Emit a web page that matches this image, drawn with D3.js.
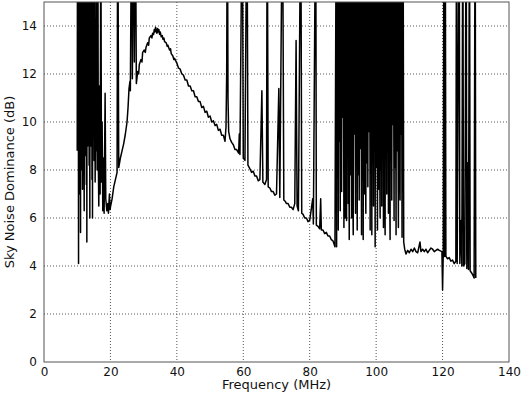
<!DOCTYPE html>
<html lang="en">
	<head>
		<meta charset="utf-8">
		<title>Sky Noise Dominance</title>
		<script type="text/javascript" src="https://cdn.jsdelivr.net/npm/d3@7"></script>
		<style type="text/css">
			body { margin: 0; background: #fff; }
			text { font-family: "DejaVu Sans", sans-serif; fill: #111; }
		</style>
	</head>
	<body>
		<script type="text/javascript">

			//Tick labels
			var xTicks = [0, 20, 40, 60, 80, 100, 120, 140];
			var yTicks = [0, 2, 4, 6, 8, 10, 12, 14];

			//Spectrum, [frequency MHz, dB]; 20 = off the top
			var lowBand = [
				[10.0, 8.8], [10.1, 20], [10.2, 9.0], [10.3, 20], [10.4, 4.1], [10.5, 20], [10.6, 7.0],
				[10.7, 20], [10.8, 9.8], [10.9, 20], [11.0, 5.4], [11.1, 20], [11.2, 8.0], [11.3, 20],
				[11.4, 9.5], [11.5, 20], [11.6, 7.2], [11.7, 20], [11.8, 8.5], [11.9, 20], [12.0, 10.2],
				[12.1, 6.3], [12.2, 20], [12.35, 8.6], [12.45, 20], [12.5, 10.5], [12.6, 20], [12.75, 7.4],
				[12.85, 20], [12.9, 5.0], [13.0, 20], [13.15, 9.0], [13.25, 20], [13.3, 12.0], [13.4, 20],
				[13.6, 8.2], [13.7, 20], [13.8, 6.0], [13.9, 20], [14.05, 10.8], [14.15, 20], [14.2, 9.0],
				[14.3, 20], [14.45, 7.6], [14.55, 20], [14.6, 6.0], [14.7, 20], [14.85, 9.7], [14.95, 20],
				[15.0, 13.5], [15.1, 8.4], [15.2, 20], [15.4, 7.5], [15.6, 12.5], [15.7, 8.8], [15.8, 20],
				[16.0, 8.0], [16.1, 11.0], [16.2, 20], [16.35, 8.4], [16.5, 6.5], [16.7, 11.5], [16.9, 7.0],
				[17.0, 12.6], [17.1, 20], [17.3, 7.5], [17.5, 10.0], [17.7, 6.3], [17.9, 8.5], [18.1, 6.2],
				[18.4, 11.2], [18.6, 6.8], [18.9, 6.3], [19.2, 6.6], [19.4, 6.2]
			];

			var skyCurve = [
				[19.7, 7.0], [19.9, 6.35], [20.0, 6.45], [20.5, 6.8], [21.0, 7.3], [21.5, 7.6], [22.0, 7.9],
				[22.2, 20], [22.5, 8.1], [23.0, 8.5], [23.5, 8.8], [24.0, 9.1], [24.5, 9.5], [25.0, 10.0],
				[25.3, 10.6], [25.6, 11.4], [25.9, 11.7], [26.0, 11.3], [26.4, 20], [26.6, 11.8], [26.9, 20],
				[27.2, 12.5], [27.5, 20], [27.8, 11.6], [28.2, 12.1], [28.5, 12.0], [28.7, 12.4], [29.2, 12.6],
				[29.5, 12.5], [29.7, 12.9], [30.2, 13.0], [30.5, 12.9], [30.7, 13.1], [31.2, 13.3],
				[31.5, 13.2], [31.7, 13.5], [32.2, 13.6], [32.5, 13.5], [32.7, 13.7], [33.0, 13.65],
				[33.2, 13.85], [33.4, 13.75], [33.6, 13.95], [33.8, 13.8], [34.0, 13.7], [34.2, 13.9],
				[34.4, 13.75], [34.6, 13.85], [34.8, 13.65], [35.0, 13.75], [35.3, 13.55], [35.6, 13.6],
				[35.8, 13.45], [36.1, 13.5], [36.3, 13.35], [36.8, 13.3], [37.1, 13.15], [37.3, 13.2],
				[37.8, 13.0], [38.1, 13.05], [38.3, 12.85], [38.8, 12.75], [39.1, 12.6], [39.3, 12.65],
				[40.0, 12.45], [40.5, 12.25], [41.0, 12.2], [41.5, 12.0], [42.0, 11.95], [42.5, 11.75],
				[43.0, 11.75], [43.5, 11.5], [44.0, 11.5], [44.5, 11.3], [45.0, 11.3], [45.5, 11.05],
				[46.0, 11.05], [46.5, 10.85], [47.0, 10.85], [47.5, 10.6], [48.0, 10.65], [48.5, 10.4],
				[49.0, 10.45], [49.5, 10.2], [50.0, 10.25], [50.5, 10.0], [51.0, 10.05], [51.5, 9.85],
				[52.0, 9.9], [52.5, 9.65], [53.0, 9.7], [53.5, 9.45], [54.0, 9.45], [54.5, 9.2], [54.8, 9.8],
				[55.0, 12], [55.2, 20], [55.4, 11], [55.6, 9.6], [56.0, 9.3], [56.5, 9.15], [57.0, 9.05],
				[57.5, 8.85], [58.0, 8.85], [58.6, 8.7], [58.8, 9.5], [59.0, 8.65], [59.7, 20], [60.0, 8.5],
				[60.5, 8.4], [61.1, 20], [61.4, 8.2], [62.0, 8.05], [62.5, 7.9], [63.0, 7.95], [63.5, 7.75],
				[64.0, 7.75], [64.5, 7.55], [65.0, 7.6], [65.6, 11.3], [65.9, 7.5], [66.5, 7.4], [67.0, 7.6],
				[67.2, 20], [67.5, 7.3], [68.0, 7.25], [68.5, 7.1], [69.0, 7.1], [69.5, 6.95], [70.0, 7.0],
				[70.7, 11.4], [71.0, 6.85], [71.8, 20], [72.2, 6.75], [72.6, 6.7], [73.0, 6.6], [73.5, 6.6],
				[74.0, 6.45], [74.5, 6.45], [75.0, 6.35], [75.5, 6.6], [75.9, 13.4], [76.2, 6.5], [76.6, 6.3],
				[77.3, 20], [77.6, 6.2], [78.0, 6.15], [78.5, 6.0], [79.0, 6.0], [79.5, 5.85], [80.0, 5.9],
				[80.9, 6.8], [81.1, 5.75], [81.8, 20], [82.0, 5.7], [82.5, 5.65], [83.0, 5.55], [83.3, 6.8],
				[83.5, 5.5], [84.0, 5.5], [84.5, 5.35], [85.0, 5.4], [85.5, 5.25], [86.0, 5.25], [86.5, 5.1],
				[87.0, 5.05], [87.6, 4.8]
			];

			var fmBand = [
				[88.0, 20], [88.1, 4.8], [88.2, 20], [88.35, 8.5], [88.45, 20], [88.6, 5.5], [88.75, 20],
				[88.9, 9.2], [89.0, 20], [89.2, 6.3], [89.3, 20], [89.45, 8.0], [89.55, 20], [89.6, 7.1],
				[89.75, 20], [89.9, 10.2], [90.05, 20], [90.3, 5.6], [90.45, 20], [90.6, 11.7], [90.7, 6.0],
				[90.85, 20], [91.0, 8.4], [91.1, 5.9], [91.25, 20], [91.4, 9.0], [91.5, 20], [91.6, 6.6],
				[91.7, 20], [91.8, 8.8], [91.9, 5.1], [92.05, 20], [92.2, 7.8], [92.35, 20], [92.6, 6.0],
				[92.7, 20], [92.8, 11.5], [92.95, 7.5], [93.1, 5.3], [93.25, 20], [93.4, 9.5], [93.55, 20],
				[93.8, 6.2], [93.9, 20], [94.05, 8.2], [94.15, 20], [94.3, 5.5], [94.45, 20], [94.5, 12.1],
				[94.6, 7.8], [94.75, 20], [94.9, 6.75], [95.05, 20], [95.2, 8.9], [95.35, 20], [95.6, 5.3],
				[95.7, 20], [95.85, 7.6], [96.0, 20], [96.1, 5.1], [96.2, 20], [96.3, 10.0], [96.4, 7.0],
				[96.55, 20], [96.75, 9.1], [96.9, 6.2], [97.05, 20], [97.2, 8.3], [97.35, 20], [97.5, 7.3],
				[97.65, 20], [97.8, 9.6], [97.95, 20], [98.2, 5.5], [98.3, 20], [98.45, 7.9], [98.55, 20],
				[98.7, 5.3], [98.8, 20], [98.95, 8.6], [99.05, 20], [99.2, 6.5], [99.3, 20], [99.5, 9.4],
				[99.6, 20], [99.7, 4.8], [99.85, 20], [100.0, 8.1], [100.15, 20], [100.4, 5.5], [100.5, 20],
				[100.6, 13.1], [100.7, 7.2], [100.85, 20], [101.0, 9.3], [101.2, 6.0], [101.3, 20],
				[101.45, 8.0], [101.55, 20], [101.7, 6.5], [101.8, 20], [101.95, 9.8], [102.05, 20],
				[102.2, 5.6], [102.3, 20], [102.4, 12.5], [102.55, 7.4], [102.7, 5.3], [102.8, 20],
				[102.95, 8.7], [103.05, 20], [103.2, 7.0], [103.3, 20], [103.45, 9.2], [103.55, 20],
				[103.7, 6.2], [103.8, 20], [103.9, 9.0], [104.05, 7.7], [104.2, 5.1], [104.3, 20],
				[104.45, 8.4], [104.55, 20], [104.7, 6.75], [104.85, 20], [105.0, 9.9], [105.1, 20],
				[105.4, 5.9], [105.5, 20], [105.6, 8.1], [105.75, 20], [106.0, 5.3], [106.1, 20],
				[106.25, 8.8], [106.35, 20], [106.7, 5.6], [106.8, 20], [106.9, 13.0], [107.05, 8.2],
				[107.2, 6.75], [107.35, 20], [107.5, 9.5], [107.6, 20], [107.8, 5.2], [107.9, 20],
				[108.0, 7.5], [108.1, 20], [108.3, 5.0]
			];

			var upperBand = [
				[108.6, 4.7], [109.0, 4.5], [109.5, 4.65], [110.0, 4.55], [110.5, 4.7], [111.0, 4.6],
				[111.5, 4.75], [112.0, 4.6], [112.5, 4.55], [113.2, 5.0], [113.5, 4.6], [114.0, 4.7],
				[114.5, 4.6], [115.0, 4.7], [115.5, 4.55], [116.0, 4.65], [116.5, 4.75], [117.0, 4.7],
				[117.5, 4.6], [118.0, 4.65], [118.5, 4.7], [119.0, 4.65], [119.8, 4.6], [120.0, 3.0],
				[120.2, 4.5], [120.4, 20], [120.6, 4.4], [120.8, 20], [121.0, 4.4], [121.5, 4.3],
				[122.0, 4.35], [122.5, 4.2], [123.0, 4.25], [123.5, 4.1], [124.0, 4.2], [124.2, 20],
				[124.4, 4.1], [125.0, 20], [125.2, 4.1], [125.6, 5.9], [125.8, 4.0], [126.1, 20],
				[126.3, 4.0], [126.7, 4.1], [127.1, 20], [127.3, 3.9], [127.6, 8.3], [127.8, 3.85],
				[128.1, 20], [128.3, 3.8], [128.8, 3.7], [129.2, 3.6], [129.5, 3.5], [129.8, 20], [130.0, 3.5]
			];

			var spectrum = lowBand.concat(skyCurve, fmBand, upperBand);

			//Width, height and plot box
			var w = 523;
			var h = 399;
			var margin = {top: 2, right: 14, bottom: 37, left: 44};
			var pw = w - margin.left - margin.right;
			var ph = h - margin.top - margin.bottom;

			var x = d3.scaleLinear().domain([0, 140]).range([0, pw]);
			var y = d3.scaleLinear().domain([0, 15]).range([ph, 0]);

			//Create SVG element
			var svg = d3.select("body")
						.append("svg")
						.attr("width", w)
						.attr("height", h);

			var g = svg.append("g")
					   .attr("transform", "translate(" + margin.left + "," + margin.top + ")");

			g.append("clipPath")
			 .attr("id", "plot")
			 .append("rect")
			 .attr("width", pw)
			 .attr("height", ph);

			//Dotted grid
			g.selectAll(".vgrid")
			 .data(xTicks.slice(1, -1))
			 .enter()
			 .append("line")
			 .attr("x1", function(d) { return x(d); })
			 .attr("x2", function(d) { return x(d); })
			 .attr("y1", 0)
			 .attr("y2", ph)
			 .attr("stroke", "#555")
			 .attr("stroke-dasharray", "1,2");

			g.selectAll(".hgrid")
			 .data(yTicks.slice(1))
			 .enter()
			 .append("line")
			 .attr("x1", 0)
			 .attr("x2", pw)
			 .attr("y1", function(d) { return y(d); })
			 .attr("y2", function(d) { return y(d); })
			 .attr("stroke", "#555")
			 .attr("stroke-dasharray", "1,2");

			//The spectrum
			var line = d3.line()
						 .x(function(d) { return x(d[0]); })
						 .y(function(d) { return y(d[1]); });

			g.append("path")
			 .datum(spectrum)
			 .attr("clip-path", "url(#plot)")
			 .attr("d", line)
			 .attr("fill", "none")
			 .attr("stroke", "#000")
			 .attr("stroke-width", 1.5)
			 .attr("stroke-linejoin", "round");

			//Axes
			var xAxis = d3.axisBottom(x).tickValues(xTicks).tickSize(0).tickPadding(5);
			var yAxis = d3.axisLeft(y).tickValues(yTicks).tickSize(0).tickPadding(7);

			g.append("g")
			 .attr("transform", "translate(0," + ph + ")")
			 .call(xAxis)
			 .call(function(s) { s.select(".domain").remove(); })
			 .selectAll("text")
			 .attr("font-size", 12)
			 .attr("font-family", "DejaVu Sans")
			 .attr("fill", "#111");

			g.append("g")
			 .call(yAxis)
			 .call(function(s) { s.select(".domain").remove(); })
			 .selectAll("text")
			 .attr("font-size", 12)
			 .attr("font-family", "DejaVu Sans")
			 .attr("fill", "#111");

			//Frame
			g.append("rect")
			 .attr("width", pw)
			 .attr("height", ph)
			 .attr("fill", "none")
			 .attr("stroke", "#555")
			 .attr("stroke-width", 1);

			//Axis titles
			svg.append("text")
			   .attr("x", margin.left + pw / 2)
			   .attr("y", 389)
			   .attr("text-anchor", "middle")
			   .attr("font-size", 13)
			   .text("Frequency (MHz)");

			svg.append("text")
			   .attr("transform", "translate(14," + (margin.top + ph / 2) + ") rotate(-90)")
			   .attr("text-anchor", "middle")
			   .attr("font-size", 13)
			   .text("Sky Noise Dominance (dB)");

		</script>
	</body>
</html>
